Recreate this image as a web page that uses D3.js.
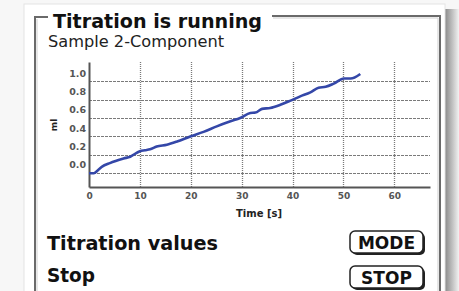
<!DOCTYPE html>
<html>
<head>
<meta charset="utf-8">
<script src="https://cdn.jsdelivr.net/npm/d3@7"></script>
<style>
  html, body { margin: 0; padding: 0; background: #f7f7f7; }
  svg { display: block; }
  text { font-family: "DejaVu Sans", Verdana, sans-serif; }
</style>
</head>
<body>
<svg id="chart" width="459" height="291"></svg>
<script>
// values
var timeS = [0, 0.9, 2.5, 4.1, 6.8, 8.1, 10.0, 11.0, 12.0, 13.3, 15.3, 17.3, 19.9, 22.5, 25.1, 27.8, 29.7, 31.7, 32.7, 34.0, 35.6, 37.6, 39.6, 41.5, 43.5, 45.1, 46.5, 48.1, 50.1, 51.4, 53.3];
var volumeMl = [0.0, 0.0, 0.07, 0.11, 0.16, 0.18, 0.24, 0.25, 0.26, 0.29, 0.31, 0.345, 0.40, 0.45, 0.51, 0.565, 0.60, 0.655, 0.66, 0.70, 0.71, 0.745, 0.79, 0.836, 0.88, 0.93, 0.94, 0.975, 1.03, 1.03, 1.08];
var xTicks = [0, 10, 20, 30, 40, 50, 60];
var yTicks = [0.0, 0.2, 0.4, 0.6, 0.8, 1.0];
var yTickLabels = ['0.0', '0.2', '0.4', '0.6', '0.8', '1.0'];
var screenTexts = ['Titration is running', 'Sample 2-Component', 'Titration values', 'Stop'];
var buttons = ['MODE', 'STOP'];

var svg = d3.select('#chart');

// shadow gradient on the right of the panel
var defs = svg.append('defs');
var grad = defs.append('linearGradient').attr('id', 'shadowR');
grad.append('stop').attr('offset', '0%').attr('stop-color', '#8a8a8a');
grad.append('stop').attr('offset', '100%').attr('stop-color', '#f2f2f2');

svg.append('rect')
    .attr('x', 445).attr('y', 9).attr('width', 14).attr('height', 291)
    .attr('fill', 'url(#shadowR)');

// white panel
svg.append('rect')
    .attr('x', 24).attr('y', 4).attr('width', 421).attr('height', 300)
    .attr('fill', '#fff')
    .attr('stroke', '#e4e4e4');

// frame (with a gap for the title)
var frame = svg.append('g')
    .attr('fill', 'none')
    .attr('stroke', '#6a6a6a')
    .attr('stroke-width', 2);
frame.append('path').attr('d', 'M48,17 L35,17 L35,300');
frame.append('path').attr('d', 'M272,16 L440,16 L440,300');
svg.append('path')
    .attr('d', 'M273,18 L438,18 M438,18 L438,300 M37,19 L37,300')
    .attr('fill', 'none').attr('stroke', '#cfcfcf').attr('stroke-width', 1);

// titles
svg.append('text')
    .attr('x', 53).attr('y', 28)
    .attr('font-size', 19).attr('font-weight', 'bold')
    .attr('fill', '#111')
    .attr('textLength', 209).attr('lengthAdjust', 'spacingAndGlyphs')
    .text(screenTexts[0]);
svg.append('text')
    .attr('x', 48).attr('y', 47)
    .attr('font-size', 15)
    .attr('fill', '#222')
    .attr('textLength', 176).attr('lengthAdjust', 'spacingAndGlyphs')
    .text(screenTexts[1]);

// scales
var x = d3.scaleLinear().domain([0, 67]).range([89, 430]);
var y = d3.scaleLinear().domain([-0.15, 1.21]).range([187, 62]);

// grid
var grid = svg.append('g')
    .attr('stroke', '#7a7a7a')
    .attr('stroke-width', 1);
grid.selectAll('.hgrid')
    .data(yTicks)
    .enter()
    .append('line')
    .attr('class', 'hgrid')
    .attr('x1', x(0)).attr('x2', x(67))
    .attr('y1', function(d) { return Math.round(y(d)) + 0.5; })
    .attr('y2', function(d) { return Math.round(y(d)) + 0.5; })
    .attr('stroke-dasharray', '3 1');
grid.selectAll('.vgrid')
    .data(xTicks.slice(1))
    .enter()
    .append('line')
    .attr('class', 'vgrid')
    .attr('x1', function(d) { return Math.round(x(d)) + 0.5; })
    .attr('x2', function(d) { return Math.round(x(d)) + 0.5; })
    .attr('y1', y(1.21)).attr('y2', y(-0.15))
    .attr('stroke-width', 1.3)
    .attr('stroke-dasharray', '1 1');

// axes
var xAxis = d3.axisBottom(x)
    .tickValues(xTicks)
    .tickSize(0)
    .tickPadding(6)
    .tickFormat(d3.format('d'));
var gx = svg.append('g')
    .attr('transform', 'translate(0,' + y(-0.15) + ')')
    .call(xAxis);
gx.select('.domain').attr('stroke', '#555').attr('stroke-width', 2);
gx.selectAll('text')
    .attr('font-size', 9).attr('font-weight', 'bold')
    .attr('fill', '#555')
    .attr('font-family', '"DejaVu Sans", sans-serif');

var yAxis = d3.axisLeft(y)
    .tickValues(yTicks)
    .tickSize(0)
    .tickPadding(3)
    .tickFormat(function(d, i) { return yTickLabels[i]; });
var gy = svg.append('g')
    .attr('transform', 'translate(' + x(0) + ',0)')
    .call(yAxis);
gy.select('.domain').attr('stroke', '#555').attr('stroke-width', 2);
gy.selectAll('text')
    .attr('font-size', 9.5).attr('font-weight', 'bold')
    .attr('fill', '#555')
    .attr('dy', '-0.55em')
    .attr('font-family', '"DejaVu Sans", sans-serif');

// axis titles
svg.append('text')
    .attr('transform', 'translate(57,125) rotate(-90)')
    .attr('text-anchor', 'middle')
    .attr('font-size', 9).attr('font-weight', 'bold')
    .attr('fill', '#222')
    .text('ml');
svg.append('text')
    .attr('x', 259).attr('y', 217)
    .attr('text-anchor', 'middle')
    .attr('font-size', 10).attr('font-weight', 'bold')
    .attr('fill', '#222')
    .text('Time [s]');

// titration curve
var line = d3.line()
    .x(function(d, i) { return x(timeS[i]); })
    .y(function(d) { return y(d); })
    .curve(d3.curveMonotoneX);
svg.append('path')
    .datum(volumeMl)
    .attr('d', line)
    .attr('fill', 'none')
    .attr('stroke', '#3447a8')
    .attr('stroke-width', 2.6)
    .attr('stroke-linejoin', 'round');

// bottom rows
var rowWidths = [171, 48];
svg.selectAll('.row')
    .data(screenTexts.slice(2))
    .enter()
    .append('text')
    .attr('class', 'row')
    .attr('x', 47)
    .attr('y', function(d, i) { return 250 + i * 32; })
    .attr('font-size', 19).attr('font-weight', 'bold')
    .attr('fill', '#111')
    .attr('textLength', function(d, i) { return rowWidths[i]; })
    .attr('lengthAdjust', 'spacingAndGlyphs')
    .text(function(d) { return d; });

var btn = svg.selectAll('.btn')
    .data(buttons)
    .enter()
    .append('g')
    .attr('class', 'btn')
    .attr('transform', function(d, i) { return 'translate(350,' + (231 + i * 35) + ')'; });
btn.append('rect')
    .attr('x', 2).attr('y', 2).attr('width', 73).attr('height', 22)
    .attr('rx', 5)
    .attr('fill', '#222');
btn.append('rect')
    .attr('x', 0).attr('y', 0).attr('width', 73).attr('height', 22)
    .attr('rx', 5)
    .attr('fill', '#fff')
    .attr('stroke', '#222')
    .attr('stroke-width', 1.5);
btn.append('text')
    .attr('x', 36.5).attr('y', 17.5)
    .attr('text-anchor', 'middle')
    .attr('font-size', 17).attr('font-weight', 'bold')
    .attr('fill', '#111')
    .text(function(d) { return d; });
</script>
</body>
</html>
